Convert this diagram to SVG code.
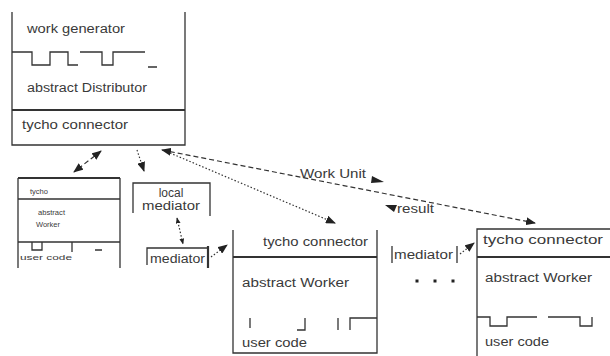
<svg xmlns="http://www.w3.org/2000/svg" width="610" height="356" viewBox="0 0 610 356">
<style>
  .ln{stroke:#333;stroke-width:1.3;fill:none}
  .thk{stroke:#333;stroke-width:2.2;fill:none}
  .t{font-family:"Liberation Sans",Arial,sans-serif;font-size:12px;fill:#3a3a3a}
  .s{font-family:"Liberation Sans",Arial,sans-serif;font-size:8px;fill:#3a3a3a}
  .dash{stroke:#333;stroke-width:1.2;fill:none;stroke-dasharray:5,3}
  .dot{stroke:#333;stroke-width:1.2;fill:none;stroke-dasharray:1.5,2}
  .ah{fill:#222}
</style>
<defs>
  <marker id="arr" viewBox="0 0 10 8" refX="9" refY="4" markerWidth="10" markerHeight="8" markerUnits="userSpaceOnUse" orient="auto-start-reverse">
    <path d="M0,0 L10,4 L0,8 Z" fill="#222"/>
  </marker>
  <marker id="arrs" viewBox="0 0 10 8" refX="9" refY="4" markerWidth="6" markerHeight="5" markerUnits="userSpaceOnUse" orient="auto-start-reverse">
    <path d="M0,0 L10,4 L0,8 Z" fill="#222"/>
  </marker>
</defs>
<rect width="610" height="356" fill="#fff"/>

<g id="distributor">
  <path class="ln" d="M12,12 V145 H185 V12"/>
  <path class="thk" d="M12,110 H185"/>
  <path class="ln" d="M12,52 H32 V65 H50 V52 H68 V65 H78 M80,52 H102 V65 H113 V52 H145 M148,67 H157"/>
  <text class="t" x="27" y="33" textLength="98" lengthAdjust="spacingAndGlyphs">work generator</text>
  <text class="t" x="27" y="92" textLength="120" lengthAdjust="spacingAndGlyphs">abstract Distributor</text>
  <text class="t" x="22" y="129" textLength="106" lengthAdjust="spacingAndGlyphs">tycho connector</text>
</g>

<g id="small-worker">
  <path class="ln" d="M18,268 V178 M120,178 V268"/>
  <path class="thk" d="M18,178 H120"/>
  <path class="ln" d="M18,199 H120 M18,242 H120"/>
  <path class="ln" d="M32,242 V250 H42 V242 M72,242 V252 M95,250 H102"/>
  <text class="s" x="30" y="194" textLength="18" lengthAdjust="spacingAndGlyphs">tycho</text>
  <text class="s" x="38" y="215" textLength="27" lengthAdjust="spacingAndGlyphs">abstract</text>
  <text class="s" x="36" y="227" textLength="24" lengthAdjust="spacingAndGlyphs">Worker</text>
  <text class="s" x="20" y="260" textLength="52" lengthAdjust="spacingAndGlyphs">user code</text>
</g>

<g id="local-mediator">
  <path class="ln" d="M133,213 V183 H210 V216"/>
  <text class="t" x="171" y="197" text-anchor="middle">local</text>
  <text class="t" x="171" y="210" text-anchor="middle" textLength="58" lengthAdjust="spacingAndGlyphs">mediator</text>
</g>

<g id="mediator-left">
  <path class="ln" d="M147,265 V248 H208"/>
  <path class="thk" d="M208,246 V268"/>
  <text class="t" x="150" y="263" textLength="55" lengthAdjust="spacingAndGlyphs">mediator</text>
</g>

<g id="worker-middle">
  <path class="ln" d="M233,230 V353 H377 V230"/>
  <path class="thk" d="M233,257 H377"/>
  <path class="ln" d="M250,318 V328 M297,330 H305 V318 M338,318 V330 M350,330 V318 H377"/>
  <text class="t" x="263" y="246" textLength="105" lengthAdjust="spacingAndGlyphs">tycho connector</text>
  <text class="t" x="242" y="287" textLength="107" lengthAdjust="spacingAndGlyphs">abstract Worker</text>
  <text class="t" x="242" y="347" textLength="65" lengthAdjust="spacingAndGlyphs">user code</text>
</g>

<g id="mediator-right">
  <path class="ln" d="M392,246 V263 M457,246 V263"/>
  <text class="t" x="394" y="259" textLength="59" lengthAdjust="spacingAndGlyphs">mediator</text>
  <rect x="415.5" y="279.5" width="3" height="3" fill="#222"/>
  <rect x="433.5" y="279.5" width="3" height="3" fill="#222"/>
  <rect x="451.5" y="279.5" width="3" height="3" fill="#222"/>
</g>

<g id="worker-right">
  <path class="ln" d="M477,356 V229 H610"/>
  <path class="thk" d="M477,257 H610"/>
  <path class="ln" d="M477,317 H490 V326 H507 V317 H537 M548,317 H580 V326 H592 V317"/>
  <text class="t" x="483" y="244" textLength="120" lengthAdjust="spacingAndGlyphs">tycho connector</text>
  <text class="t" x="485" y="282" textLength="107" lengthAdjust="spacingAndGlyphs">abstract Worker</text>
  <text class="t" x="485" y="346" textLength="64" lengthAdjust="spacingAndGlyphs">user code</text>
</g>

<g id="connectors">
  <path class="dash" d="M101,151 L74,172" marker-start="url(#arr)" marker-end="url(#arr)"/>
  <path class="dot" d="M137,150 L144,171" marker-end="url(#arr)"/>
  <path class="dash" d="M162,150 L535,223" marker-start="url(#arr)" marker-end="url(#arr)"/>
  <path class="dot" d="M170,153 L335,223" marker-end="url(#arr)"/>
  <path class="dot" d="M177,218 L183,244" marker-start="url(#arrs)" marker-end="url(#arrs)"/>
  <path class="dot" d="M211,257 L227,245" marker-end="url(#arr)"/>
  <path class="dot" d="M460,254 L474,243" marker-end="url(#arr)"/>
  <path class="ah" d="M372,176 L384,182 L371,183 Z"/>
  <path class="ah" d="M385,205 L397,205 L394,212 Z"/>
  <text class="t" x="300" y="178" textLength="66" lengthAdjust="spacingAndGlyphs">Work Unit</text>
  <text class="t" x="397" y="213" textLength="37" lengthAdjust="spacingAndGlyphs">result</text>
</g>
</svg>
